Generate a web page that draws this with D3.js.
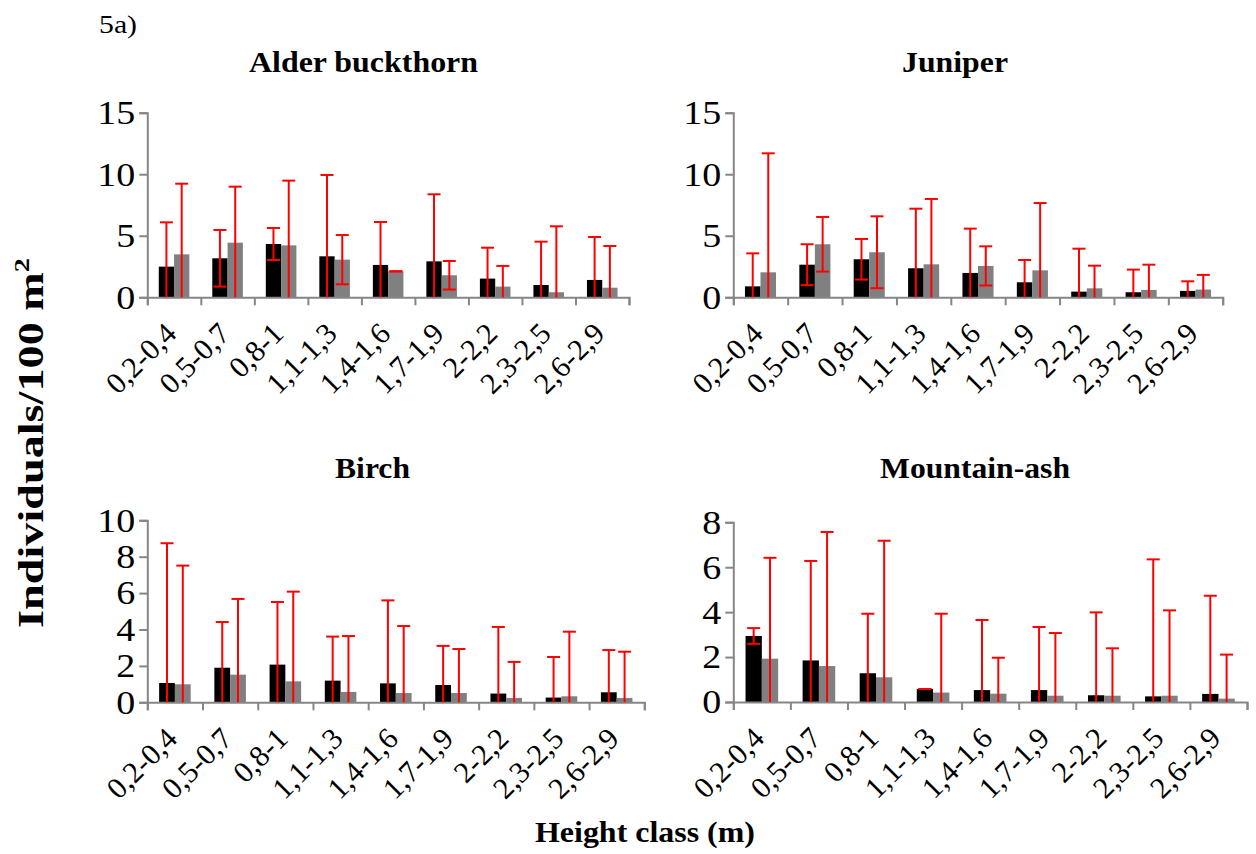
<!DOCTYPE html>
<html><head><meta charset="utf-8">
<script src="https://cdn.jsdelivr.net/npm/d3@7"></script>
<style>body{margin:0;background:#fff} svg{display:block}</style>
</head><body><svg id="c" width="1256" height="854"></svg>
<script>
const categories = ["0,2-0,4","0,5-0,7","0,8-1","1,1-1,3","1,4-1,6","1,7-1,9","2-2,2","2,3-2,5","2,6-2,9"];

// Alder buckthorn
const alderBlack   = [2.49, 3.17, 4.33, 3.33, 2.63, 2.92, 1.52, 1.00, 1.41];
const alderBlackSD = [3.60, 2.30, 1.30, 6.61, 3.49, 5.45, 2.51, 3.52, 3.49];
const alderGray    = [3.49, 4.44, 4.22, 3.06, 2.11, 1.79, 0.87, 0.41, 0.78];
const alderGraySD  = [5.74, 4.55, 5.26, 2.00, 0.00, 1.16, 1.68, 5.36, 3.39];
// Juniper
const juniperBlack   = [0.89, 2.65, 3.09, 2.36, 1.98, 1.22, 0.46, 0.41, 0.52];
const juniperBlackSD = [2.68, 1.66, 1.65, 4.84, 3.60, 1.81, 3.49, 1.84, 0.78];
const juniperGray    = [2.03, 4.31, 3.66, 2.68, 2.55, 2.19, 0.73, 0.60, 0.63];
const juniperGraySD  = [9.67, 2.22, 2.92, 5.31, 1.59, 5.47, 1.84, 2.05, 1.19];
// Birch
const birchBlack   = [1.06, 1.90, 2.07, 1.19, 1.04, 0.95, 0.48, 0.26, 0.55];
const birchBlackSD = [7.68, 2.51, 3.44, 2.42, 4.56, 2.15, 3.66, 2.23, 2.32];
const birchGray    = [0.99, 1.52, 1.15, 0.57, 0.51, 0.51, 0.24, 0.33, 0.24];
const birchGraySD  = [6.52, 4.16, 4.93, 3.07, 3.68, 2.42, 1.98, 3.55, 2.54];
// Mountain-ash
const ashBlack   = [2.94, 1.85, 1.28, 0.58, 0.53, 0.53, 0.30, 0.25, 0.36];
const ashBlackSD = [0.35, 4.43, 2.65, 0.00, 3.12, 2.81, 3.69, 6.10, 4.37];
const ashGray    = [1.93, 1.60, 1.10, 0.42, 0.37, 0.28, 0.28, 0.28, 0.15];
const ashGraySD  = [4.49, 5.97, 6.08, 3.51, 1.60, 2.79, 2.11, 3.80, 1.96];

const ticksTop = [0, 5, 10, 15];
const ticksBirch = [0, 2, 4, 6, 8, 10];
const ticksAsh = [0, 2, 4, 6, 8];

const panels = [
  {title:"Alder buckthorn", black:alderBlack, blackSD:alderBlackSD, gray:alderGray, graySD:alderGraySD, ymax:15, ticks:ticksTop,
   x0:147.3, x1:629, yTop:112.7, yBot:297.3, tx:249, tl:229, ty:72},
  {title:"Juniper", black:juniperBlack, blackSD:juniperBlackSD, gray:juniperGray, graySD:juniperGraySD, ymax:15, ticks:ticksTop,
   x0:733.3, x1:1222.7, yTop:112.7, yBot:297.3, tx:902, tl:106, ty:72},
  {title:"Birch", black:birchBlack, blackSD:birchBlackSD, gray:birchGray, graySD:birchGraySD, ymax:10, ticks:ticksBirch,
   x0:147.3, x1:644.3, yTop:520.3, yBot:702.3, tx:335, tl:75, ty:478},
  {title:"Mountain-ash", black:ashBlack, blackSD:ashBlackSD, gray:ashGray, graySD:ashGraySD, ymax:8, ticks:ticksAsh,
   x0:733.3, x1:1247, yTop:522.3, yBot:702, tx:880, tl:190, ty:478}
];

const FONT = "'Liberation Serif', 'Times New Roman', serif";
const svg = d3.select("#c");
const axisColor = "#868686";

svg.append("text").attr("x", 99).attr("y", 33).style("font-family", FONT).style("font-size", "25px")
  .attr("textLength", 38).attr("lengthAdjust", "spacingAndGlyphs").text("5a)");

panels.forEach(p => {
  const g = svg.append("g");
  const x = d3.scaleBand().domain(categories).range([p.x0, p.x1]);
  const xi = d3.scaleLinear().domain([0, categories.length]).range([p.x0, p.x1]);
  const y = d3.scaleLinear().domain([0, p.ymax]).range([p.yBot, p.yTop]);
  const bw = x.bandwidth() / 3.5;

  g.append("text").attr("x", p.tx).attr("y", p.ty)
    .style("font-family", FONT).style("font-size", "30px").style("font-weight", "bold")
    .attr("textLength", p.tl).attr("lengthAdjust", "spacingAndGlyphs").text(p.title);

  const series = [
    {vals:p.black, sd:p.blackSD, color:"#000000", off:-1},
    {vals:p.gray, sd:p.graySD, color:"#808080", off:0}
  ];
  series.forEach(s => {
    g.selectAll(null).data(categories).enter().append("rect")
      .attr("x", c => x(c) + x.bandwidth()/2 + s.off*bw)
      .attr("y", (c,i) => y(s.vals[i]))
      .attr("width", bw)
      .attr("height", (c,i) => y(0) - y(s.vals[i]))
      .attr("fill", s.color);
  });

  // y axis
  const ya = g.append("g").attr("transform", `translate(${p.x0},0)`)
    .call(d3.axisLeft(y).tickValues(p.ticks).tickSize(8).tickPadding(4).tickFormat(d3.format("d")));
  ya.select(".domain").attr("stroke", axisColor).attr("stroke-width", 2);
  ya.selectAll(".tick line").attr("stroke", axisColor).attr("stroke-width", 2);
  ya.selectAll(".tick text").attr("fill", "#000")
    .style("font-family", FONT).style("font-size", "34px")
    .attr("textLength", d => String(d).length * 19).attr("lengthAdjust", "spacingAndGlyphs");

  // x axis
  const xa = g.append("g").attr("transform", `translate(0,${p.yBot})`)
    .call(d3.axisBottom(xi).tickValues(d3.range(categories.length + 1)).tickSize(8).tickFormat(""));
  xa.select(".domain").attr("stroke", axisColor).attr("stroke-width", 2);
  xa.selectAll(".tick line").attr("stroke", axisColor).attr("stroke-width", 2);

  g.selectAll(null).data(categories).enter().append("text")
    .attr("transform", c => `translate(${x(c) + x.bandwidth()/2 + 4},${p.yBot + 38}) rotate(-45)`)
    .attr("text-anchor", "end").style("font-family", FONT).style("font-size", "30px").text(c => c);

  // error bars
  series.forEach(s => {
    categories.forEach((c, i) => {
      const cx = x(c) + x.bandwidth()/2 + s.off*bw + bw/2;
      const top = s.vals[i] + s.sd[i];
      const low = s.vals[i] - s.sd[i];
      const lowC = Math.max(low, 0);
      const col = "#ff0000";
      g.append("line").attr("x1", cx).attr("x2", cx).attr("y1", y(top)).attr("y2", y(lowC))
        .attr("stroke", col).attr("stroke-width", 2);
      g.append("line").attr("x1", cx - 6.5).attr("x2", cx + 6.5).attr("y1", y(top)).attr("y2", y(top))
        .attr("stroke", col).attr("stroke-width", 2);
      if (low >= 0) {
        g.append("line").attr("x1", cx - 6.5).attr("x2", cx + 6.5).attr("y1", y(low)).attr("y2", y(low))
          .attr("stroke", col).attr("stroke-width", 2);
      }
    });
  });
});

// axis titles
const yl = svg.append("text").attr("transform", "translate(43,443) rotate(-90)")
  .attr("text-anchor", "middle").style("font-family", FONT).style("font-size", "36px").style("font-weight", "bold")
  .attr("textLength", 370).attr("lengthAdjust", "spacingAndGlyphs");
yl.append("tspan").text("Individuals/100 m");
yl.append("tspan").style("font-size", "22px").attr("dy", -14).text("2");

svg.append("text").attr("x", 535).attr("y", 842)
  .style("font-family", FONT).style("font-size", "30px").style("font-weight", "bold")
  .attr("textLength", 220).attr("lengthAdjust", "spacingAndGlyphs").text("Height class (m)");
</script>
</body></html>
